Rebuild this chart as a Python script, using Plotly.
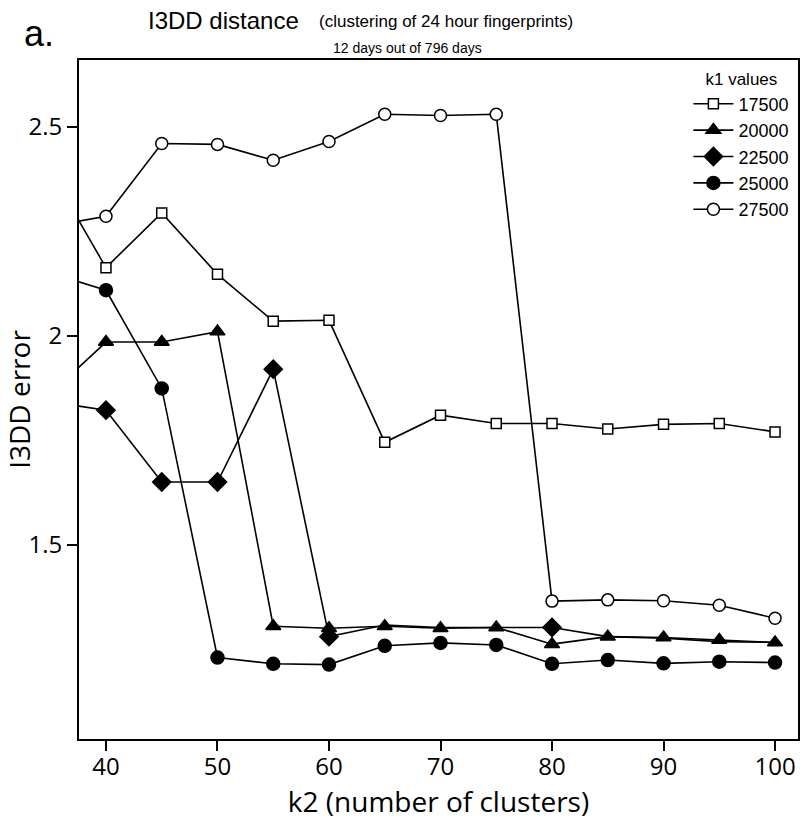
import plotly.graph_objects as go

# k2 values (number of clusters); the first point sits just left of the visible axis range
k2 = [35, 40, 45, 50, 55, 60, 65, 70, 75, 80, 85, 90, 95, 100]

# I3DD error for each k1 setting
err_17500 = [2.394, 2.163, 2.294, 2.147, 2.035, 2.037, 1.745, 1.810, 1.790, 1.790, 1.777, 1.788, 1.790, 1.770]
err_20000 = [1.861, 1.985, 1.985, 2.010, 1.305, 1.300, 1.305, 1.300, 1.302, 1.262, 1.280, 1.278, 1.272, 1.266]
err_22500 = [1.842, 1.822, 1.650, 1.650, 1.920, 1.280, 1.308, 1.302, 1.302, 1.302, 1.280, 1.276, 1.268, 1.266]
err_25000 = [2.150, 2.109, 1.874, 1.230, 1.215, 1.213, 1.258, 1.265, 1.260, 1.215, 1.224, 1.216, 1.220, 1.218]
err_27500 = [2.262, 2.286, 2.460, 2.458, 2.420, 2.465, 2.530, 2.527, 2.530, 1.365, 1.368, 1.366, 1.355, 1.324]

x_ticks = [40, 50, 60, 70, 80, 90, 100]
y_ticks = [1.5, 2, 2.5]
y_tick_text = ["1.5", "2", "2.5"]

# 22500 markers that coincide with the 20000 points are covered by the triangles
CLEAR = "rgba(0,0,0,0)"
diamond_colors = ["black"] * 6 + [CLEAR] * 3 + ["black"] + [CLEAR] * 4

# (name, values, marker symbol, fill, size, legend rank) in drawing order
series = [
    ("17500", err_17500, "square", "white", 10, 1),
    ("22500", err_22500, "diamond", diamond_colors, 14, 3),
    ("20000", err_20000, "triangle-up", "black", 13, 2),
    ("25000", err_25000, "circle", "black", 13, 4),
    ("27500", err_27500, "circle", "white", 12, 5),
]

fig = go.Figure()
for name, vals, sym, fill, size, rank in series:
    edge = fill if isinstance(fill, list) else "black"
    fig.add_trace(go.Scatter(
        x=k2, y=vals, name=name, mode="lines+markers",
        line=dict(color="black", width=1.6),
        marker=dict(symbol=sym, size=size, color=fill, opacity=1,
                    line=dict(color=edge, width=1.5)),
        legendrank=rank,
    ))

axis_font = dict(family="Open Sans, sans-serif", size=24, color="black")
label_font = "Liberation Sans, Arial, sans-serif"

fig.update_layout(
    width=803, height=821,
    margin=dict(l=79, r=3, t=60, b=82),
    paper_bgcolor="white", plot_bgcolor="white",
    showlegend=True,
    legend=dict(
        x=0.995, xanchor="right", y=0.995, yanchor="top",
        bgcolor="rgba(0,0,0,0)",
        font=dict(family=label_font, size=18, color="black"),
        title=dict(text="k1 values", side="top center",
                   font=dict(family=label_font, size=17, color="black")),
        itemwidth=40,
        tracegroupgap=0,
    ),
    xaxis=dict(
        range=[37.58, 102.06], tickvals=x_ticks,
        ticks="outside", ticklen=10, tickwidth=1.5, tickcolor="black",
        showline=True, linecolor="black", linewidth=2, mirror=True,
        showgrid=False, zeroline=False,
        tickfont=axis_font, ticklabelstandoff=-5,
        title=dict(text="k2 (number of clusters)",
                   font=dict(family="Open Sans, sans-serif", size=28, color="black"),
                   standoff=6),
    ),
    yaxis=dict(
        range=[1.035, 2.66], tickvals=y_ticks, ticktext=y_tick_text,
        ticks="outside", ticklen=10, tickwidth=1.5, tickcolor="black",
        showline=True, linecolor="black", linewidth=2, mirror=True,
        showgrid=False, zeroline=False,
        tickfont=axis_font,
        title=dict(text="I3DD error",
                   font=dict(family="Open Sans, sans-serif", size=28, color="black"),
                   standoff=4),
    ),
)

# heading texts, placed in page pixels
W, H = 803, 821
L, R, T, B = 79, 3, 60, 82


def px_to_paper(px, py):
    return (px - L) / (W - L - R), (H - B - py) / (H - T - B)


heading = [
    ("a.", 22, 34, "left", 36),
    ("I3DD distance", 146, 21, "left", 24),
    ("(clustering of 24 hour fingerprints)", 318, 22, "left", 17),
    ("12 days out of 796 days", 408, 48, "center", 14),
]
for txt, hx, hy, anchor, fsize in heading:
    ax, ay = px_to_paper(hx, hy)
    fig.add_annotation(text=txt, x=ax, y=ay, xref="paper", yref="paper",
                       xanchor=anchor, yanchor="middle", showarrow=False,
                       font=dict(family=label_font, size=fsize, color="black"))

fig.write_html("out.html")
